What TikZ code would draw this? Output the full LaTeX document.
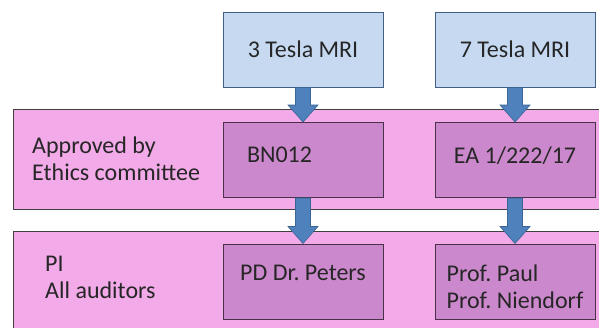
\documentclass[tikz,border=0pt]{standalone}
\usepackage{fontspec}
\setmainfont{Carlito}
\usetikzlibrary{calc}

\definecolor{mriFill}{HTML}{C6D9F1}
\definecolor{mriLine}{HTML}{3F5F85}
\definecolor{bandFill}{HTML}{F2AAE8}
\definecolor{bandLine}{HTML}{404040}
\definecolor{cellFill}{HTML}{CC88CC}
\definecolor{cellLine}{HTML}{4A3048}
\definecolor{arrowFill}{HTML}{4F81BD}
\definecolor{arrowLine}{HTML}{3A6494}

\tikzset{
  txt/.style={font=\fontsize{24}{27}\selectfont\frenchspacing, text=black!85},
  band/.style={draw=bandLine, fill=bandFill, line width=1pt},
  mribox/.style={txt, draw=mriLine, fill=mriFill, line width=1pt,
    minimum width=160pt, minimum height=75pt, inner sep=0pt},
  cell/.style={txt, draw=cellLine, fill=cellFill, line width=1pt,
    minimum width=160pt, minimum height=75pt, inner sep=0pt, align=left},
  leftcell/.style={cell, text width=112pt, inner xsep=24pt},
  blockarrow/.style={fill=arrowFill, draw=arrowLine, line width=0.6pt, line join=miter},
  label/.style={txt, align=left, inner sep=0pt}
}

% block arrow from the bottom of one box to the top of another
\newcommand\flowarrow[2]{%
  \path[blockarrow] let \p1=(#1.south), \p2=(#2.north) in
    (\x2-7.5pt,\y1) -- (\x2+7.5pt,\y1) -- (\x2+7.5pt,\y2+17pt) --
    (\x2+15pt,\y2+17pt) -- (\x2,\y2) -- (\x2-15pt,\y2+17pt) --
    (\x2-7.5pt,\y2+17pt) -- cycle;}

\begin{document}
\begin{tikzpicture}[x=1pt,y=-1pt]
  \useasboundingbox (0,0) rectangle (599,327);
  \clip (0,0) rectangle (599,327);

  % background bands
  \draw[band] (13,109) rectangle (620,209);
  \draw[band] (13,231) rectangle (620,345);

  % scanners
  \node[mribox] (t3) at (303,49.5) {3 Tesla MRI};
  \node[mribox] (t7) at (515,49.5) {7 Tesla MRI};

  % ethics approvals
  \node[leftcell, text depth=10pt] (bn) at (303,160) {BN012};
  \node[cell, text depth=10pt] (ea) at (515,160) {EA 1/222/17};

  % responsible persons
  \node[cell, text depth=18pt] (pd) at (303,281.5) {PD Dr. Peters};
  \node[cell, text height=55pt] (pp) at (515,281.5) {Prof. Paul\\Prof. Niendorf};

  % row labels (anchored at the baseline of the last line)
  \node[label, anchor=base west] (lab1) at (32,180) {Approved by\\Ethics committee};
  \node[label, anchor=base west] (lab2) at (45,298) {PI\\All auditors};

  % flow arrows
  \flowarrow{t3}{bn}
  \flowarrow{t7}{ea}
  \flowarrow{bn}{pd}
  \flowarrow{ea}{pp}
\end{tikzpicture}
\end{document}
